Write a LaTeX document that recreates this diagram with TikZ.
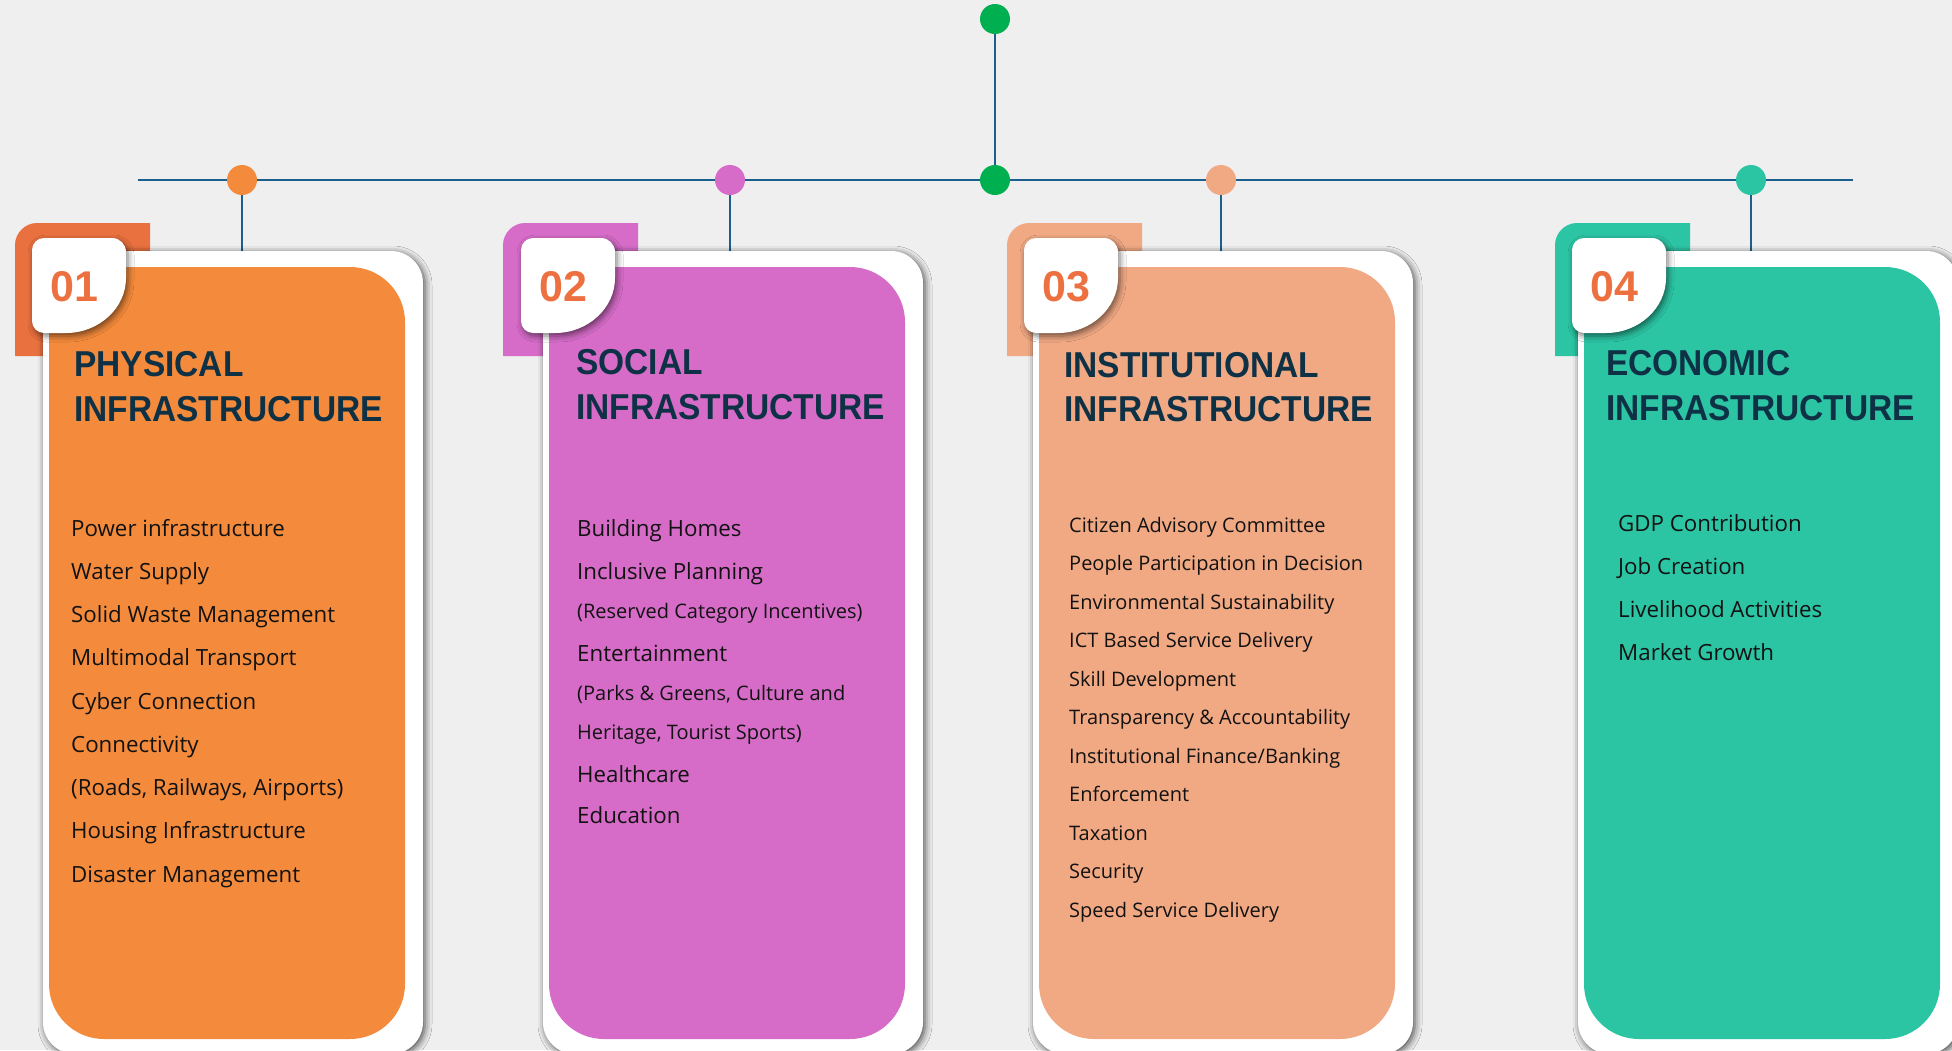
\documentclass[tikz,border=0pt]{standalone}
\usepackage{fontspec}
\usetikzlibrary{shadows.blur}
\newfontfamily\itemfont{Open Sans}
\newfontfamily\titlefont[FakeStretch=0.93]{Liberation Sans}
\newfontfamily\numfont{Liberation Sans}
\definecolor{bgc}{RGB}{239,239,239}
\definecolor{linec}{RGB}{28,95,140}
\definecolor{orangeC}{RGB}{244,139,60}
\definecolor{orangeA}{RGB}{233,112,63}
\definecolor{pinkC}{RGB}{214,108,200}
\definecolor{peachC}{RGB}{241,169,132}
\definecolor{tealC}{RGB}{44,197,164}
\definecolor{greenC}{RGB}{0,176,80}
\definecolor{numC}{RGB}{236,112,64}
\definecolor{titleC}{RGB}{14,49,69}
\definecolor{itemC}{RGB}{18,18,18}
\newcommand{\cardbody}[6]{%
  \fill[#5] (#2,356) -- (#2,245) .. controls (#2,233) and (#2+10,223) .. (#2+22,223) -- (#2+135,223) -- (#2+135,356) -- cycle;
  \fill[white, rounded corners=32pt, cardshadow] (#1,251) rectangle (#1+380,1054);
  \fill[#4, rounded corners=55pt] (#1+6,267) rectangle (#1+362,1039);
  \fill[white, tabshadow] (#3,250) .. controls (#3,243.4) and (#3+5.4,238) .. (#3+12,238) -- (#3+80,238) .. controls (#3+87.7,238) and (#3+94,244.3) .. (#3+94,252) -- (#3+94,278) .. controls (#3+94,308) and (#3+67,333) .. (#3+34,333) -- (#3+12,333) .. controls (#3+5.4,333) and (#3,327.6) .. (#3,321) -- cycle;
  \node[numtxt] (num#6) at (#3+18,301) {#6};
}
\begin{document}
\begin{tikzpicture}[x=1pt,y=-1pt,
  conn/.style={draw=linec, line width=2.5pt},
  dot/.style={circle, minimum size=30pt, inner sep=0pt},
  cardshadow/.style={blur shadow={shadow xshift=2pt, shadow yshift=-2pt, shadow blur radius=7pt, shadow opacity=70}},
  tabshadow/.style={blur shadow={shadow xshift=2pt, shadow yshift=-3pt, shadow blur radius=6pt, shadow opacity=55}},
  numtxt/.style={anchor=base west, inner sep=0pt, text=numC, font=\numfont\bfseries\fontsize{43}{43}\selectfont},
  ttl/.style={anchor=base west, inner sep=0pt, text=titleC, font=\titlefont\bfseries\fontsize{36}{45}\selectfont},
  item/.style={anchor=base west, inner sep=0pt, text=itemC, font=\itemfont\fontsize{22.3}{26}\selectfont},
  itemsm/.style={anchor=base west, inner sep=0pt, text=itemC, font=\itemfont\fontsize{20}{24}\selectfont}
]
\useasboundingbox (0,0) rectangle (1952,1050);
\fill[bgc] (0,0) rectangle (1952,1050);
% timeline
\coordinate (lineL) at (138,180);
\coordinate (lineR) at (1853,180);
\draw[conn] (lineL) -- (lineR);
\node[dot, fill=greenC] (gtop) at (995,19) {};
\node[dot, fill=greenC] (gmid) at (995,180) {};
\node[dot, fill=orangeC] (d1) at (242,180) {};
\node[dot, fill=pinkC] (d2) at (730,180) {};
\node[dot, fill=peachC] (d3) at (1221,180) {};
\node[dot, fill=tealC] (d4) at (1751,180) {};
\draw[conn] (gtop) -- (gmid);
\coordinate (top1) at (242,252);
\coordinate (top2) at (730,252);
\coordinate (top3) at (1221,252);
\coordinate (top4) at (1751,252);
\draw[conn] (d1) -- (top1);
\draw[conn] (d2) -- (top2);
\draw[conn] (d3) -- (top3);
\draw[conn] (d4) -- (top4);
% cards
\cardbody{43}{15}{32}{orangeC}{orangeA}{01}
\cardbody{543}{503}{521}{pinkC}{pinkC}{02}
\cardbody{1033}{1007}{1024}{peachC}{peachC}{03}
\cardbody{1578}{1555}{1572}{tealC}{tealC}{04}
% titles
\node[ttl] (t1a) at (74,376) {PHYSICAL};
\node[ttl] (t1b) at (74,421) {INFRASTRUCTURE};
\node[ttl] (t2a) at (576,374) {SOCIAL};
\node[ttl] (t2b) at (576,419) {INFRASTRUCTURE};
\node[ttl] (t3a) at (1064,377) {INSTITUTIONAL};
\node[ttl] (t3b) at (1064,421) {INFRASTRUCTURE};
\node[ttl] (t4a) at (1606,375) {ECONOMIC};
\node[ttl] (t4b) at (1606,420) {INFRASTRUCTURE};
% card 1 list
\foreach \t [count=\i from 0] in {Power infrastructure, Water Supply, Solid Waste Management, Multimodal Transport, Cyber Connection, Connectivity, {(Roads, Railways, Airports)}, Housing Infrastructure, Disaster Management}
  \node[item] (a\i) at (71,{536+43.25*\i}) {\t};
% card 2 list
\node[item] (b0) at (577,536) {Building Homes};
\node[item] (b1) at (577,579) {Inclusive Planning};
\node[itemsm] (b2) at (577,618) {(Reserved Category Incentives)};
\node[item] (b3) at (577,661) {Entertainment};
\node[itemsm] (b4) at (577,700) {(Parks \& Greens, Culture and};
\node[itemsm] (b5) at (577,739) {Heritage, Tourist Sports)};
\node[item] (b6) at (577,782) {Healthcare};
\node[item] (b7) at (577,823) {Education};
% card 3 list
\foreach \t [count=\i from 0] in {Citizen Advisory Committee, People Participation in Decision, Environmental Sustainability, ICT Based Service Delivery, Skill Development, Transparency \& Accountability, Institutional Finance/Banking, Enforcement, Taxation, Security, Speed Service Delivery}
  \node[itemsm] (c\i) at (1069,{532+38.5*\i}) {\t};
% card 4 list
\foreach \t [count=\i from 0] in {GDP Contribution, Job Creation, Livelihood Activities, Market Growth}
  \node[item] (e\i) at (1618,{531+43.3*\i}) {\t};
\end{tikzpicture}
\end{document}
